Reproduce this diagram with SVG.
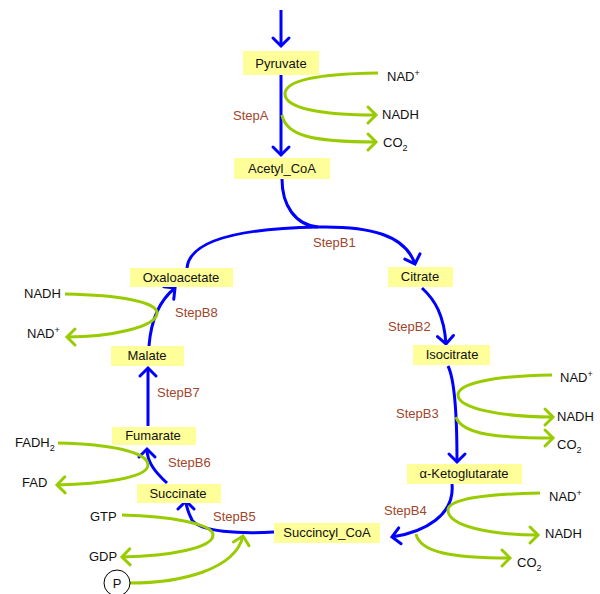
<svg xmlns="http://www.w3.org/2000/svg" width="600" height="594" viewBox="0 0 600 594">
  <style>
    .box { fill: #ffff99; }
    .lbl { font-family: "Liberation Sans", Arial, sans-serif; font-size: 13px; fill: #111; }
    .node { text-anchor: middle; }
    .step { font-family: "Liberation Sans", Arial, sans-serif; font-size: 13px; fill: #a0462a; }
    .main { fill: none; stroke: #0000ff; stroke-width: 3; marker-end: url(#hb); }
    .side { fill: none; stroke: #99cc00; stroke-width: 3; }
    .side.arr { marker-end: url(#hg); }
    .sup { font-size: 9px; }
  </style>
  <defs>
    <marker id="hb" markerUnits="userSpaceOnUse" markerWidth="24" markerHeight="24" viewBox="-12 -12 24 24" refX="0" refY="0" orient="auto">
      <path d="M-8,-8 L0,0 L-8,8" fill="none" stroke="#0000ff" stroke-width="3" stroke-linecap="round" stroke-linejoin="miter"/>
    </marker>
    <marker id="hg" markerUnits="userSpaceOnUse" markerWidth="24" markerHeight="24" viewBox="-12 -12 24 24" refX="0" refY="0" orient="auto">
      <path d="M-8,-8 L0,0 L-8,8" fill="none" stroke="#99cc00" stroke-width="3" stroke-linecap="round"/>
    </marker>
  </defs>

  <g id="connectors">
    <!-- main pathway -->
    <path class="main" d="M281,10 L281,46"/>
    <path class="main" d="M281,75 L281,155"/>
    <path fill="none" stroke="#0000ff" stroke-width="3" d="M282,179 C282,205 295,225 318,227"/>
    <path class="main" d="M187,268 C190,235 260,228 318,227 C370,226 405,235 415,264"/>
    <path class="main" d="M422,288 C435,300 444,315 446,344"/>
    <path class="main" d="M448,366 C455,380 457,420 457,462"/>
    <path class="main" d="M452,484 C455,515 425,532 392,537"/>
    <path class="main" d="M274,532 C240,534 200,532 192,520 C188,512 186,506 186,501"/>
    <path class="main" d="M167,483 C155,472 147,462 147,449"/>
    <path class="main" d="M148,426 L148,368"/>
    <path class="main" d="M149,346 C151,320 160,300 175,288"/>

    <!-- cofactors -->
    <path class="side arr" d="M378,73 C310,74 285,82 285,94 C285,108 320,115 376,115"/>
    <path class="side arr" d="M282,115 C286,135 310,142 376,142"/>
    <path class="side arr" d="M552,375 C490,376 458,384 458,395 C458,408 500,417 553,417"/>
    <path class="side arr" d="M456,417 C462,435 500,438 553,438"/>
    <path class="side arr" d="M540,493 C480,494 448,500 448,510 C448,526 490,535 538,535"/>
    <path class="side arr" d="M416,534 C420,552 450,558 510,558"/>
    <path class="side arr" d="M122,515 C170,516 213,524 213,535 C213,548 170,556 122,557"/>
    <path class="side arr" d="M130,583 C180,583 235,570 243,536"/>
    <path class="side arr" d="M58,443 C110,444 148,452 148,465 C148,478 100,484 57,485"/>
    <path class="side arr" d="M65,294 C120,295 157,302 157,313 C157,327 110,337 67,337"/>
  </g>

  <g id="pyruvate"><rect class="box" x="243" y="51" width="76" height="24"/><text class="lbl node" x="281" y="68">Pyruvate</text></g>
  <g id="acetyl-coa"><rect class="box" x="234" y="158" width="96" height="21"/><text class="lbl node" x="282" y="173">Acetyl_CoA</text></g>
  <g id="oxaloacetate"><rect class="box" x="130" y="268" width="103" height="19"/><text class="lbl node" x="181" y="282">Oxaloacetate</text></g>
  <g id="citrate"><rect class="box" x="388" y="267" width="65" height="20"/><text class="lbl node" x="420" y="281">Citrate</text></g>
  <g id="isocitrate"><rect class="box" x="413" y="345" width="77" height="20"/><text class="lbl node" x="452" y="359">Isocitrate</text></g>
  <g id="ketoglutarate"><rect class="box" x="407" y="464" width="115" height="20"/><text class="lbl node" x="464" y="478">α-Ketoglutarate</text></g>
  <g id="succinyl-coa"><rect class="box" x="274" y="523" width="106" height="20"/><text class="lbl node" x="327" y="537">Succincyl_CoA</text></g>
  <g id="succinate"><rect class="box" x="137" y="484" width="84" height="19"/><text class="lbl node" x="178" y="498">Succinate</text></g>
  <g id="fumarate"><rect class="box" x="112" y="427" width="84" height="18"/><text class="lbl node" x="153" y="440">Fumarate</text></g>
  <g id="malate"><rect class="box" x="111" y="346" width="73" height="20"/><text class="lbl node" x="147" y="360">Malate</text></g>

  <g id="phosphate"><circle cx="117" cy="583" r="13" fill="#fff" stroke="#000" stroke-width="1"/><text class="lbl node" x="117" y="588">P</text></g>

  <g id="step-labels">
    <text class="step" x="233" y="120">StepA</text>
    <text class="step" x="313" y="247">StepB1</text>
    <text class="step" x="388" y="331">StepB2</text>
    <text class="step" x="396" y="418">StepB3</text>
    <text class="step" x="384" y="515">StepB4</text>
    <text class="step" x="213" y="521">StepB5</text>
    <text class="step" x="168" y="467">StepB6</text>
    <text class="step" x="157" y="397">StepB7</text>
    <text class="step" x="175" y="317">StepB8</text>
  </g>

  <g id="cofactor-labels">
    <text class="lbl" x="387" y="81">NAD<tspan class="sup" dy="-5">+</tspan></text>
    <text class="lbl" x="382" y="119">NADH</text>
    <text class="lbl" x="383" y="147">CO<tspan class="sup" dy="4">2</tspan></text>
    <text class="lbl" x="560" y="382">NAD<tspan class="sup" dy="-5">+</tspan></text>
    <text class="lbl" x="557" y="421">NADH</text>
    <text class="lbl" x="557" y="449">CO<tspan class="sup" dy="4">2</tspan></text>
    <text class="lbl" x="549" y="501">NAD<tspan class="sup" dy="-5">+</tspan></text>
    <text class="lbl" x="545" y="538">NADH</text>
    <text class="lbl" x="517" y="567">CO<tspan class="sup" dy="4">2</tspan></text>
    <text class="lbl" x="90" y="521">GTP</text>
    <text class="lbl" x="89" y="561">GDP</text>
    <text class="lbl" x="15" y="447">FADH<tspan class="sup" dy="4">2</tspan></text>
    <text class="lbl" x="22" y="487">FAD</text>
    <text class="lbl" x="24" y="298">NADH</text>
    <text class="lbl" x="27" y="338">NAD<tspan class="sup" dy="-5">+</tspan></text>
  </g>
</svg>
